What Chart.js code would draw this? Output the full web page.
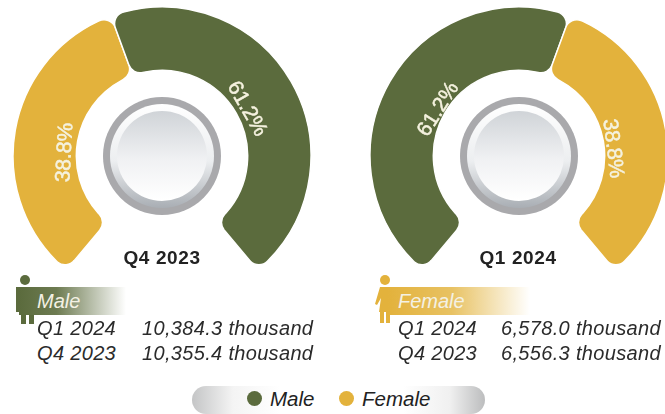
<!DOCTYPE html>
<html>
<head>
<meta charset="utf-8">
<script src="https://cdn.jsdelivr.net/npm/chart.js@4"></script>
<style>
  html, body { margin: 0; padding: 0; background: #fff; }
  body { width: 665px; height: 414px; position: relative; overflow: hidden; font-family: "Liberation Sans", Arial, sans-serif; color: #2b2b2b; }
  .box { position: absolute; }
  .box canvas { display: block; }
  .title { position: absolute; top: 248px; width: 120px; text-align: center; font-weight: bold; font-size: 19px; letter-spacing: 0.6px; line-height: 20px; color: #222; }
  .banner { position: absolute; top: 287px; height: 28px; line-height: 29px; font-style: italic; font-size: 20px; color: #f4f1e4; }
  .row { position: absolute; font-style: italic; font-size: 20px; letter-spacing: 0.33px; line-height: 24px; white-space: nowrap; }
  .pill { position: absolute; left: 192px; top: 386px; width: 293px; height: 28px; border-radius: 14px; background: linear-gradient(90deg, #c4c5c6 0%, #f4f4f4 14%, #fff 30%, #fff 72%, #f0f0f0 88%, #bcbdbe 100%); }
  .dot { position: absolute; top: 391px; width: 15px; height: 15px; border-radius: 50%; }
  .key { position: absolute; top: 387px; font-style: italic; font-size: 20.5px; line-height: 24px; color: #222; }
  svg { position: absolute; }
</style>
</head>
<body>
<div class="box" style="left:12px;top:0;width:300px;height:277px"><canvas id="chartQ4"></canvas></div>
<div class="box" style="left:369px;top:0;width:300px;height:277px"><canvas id="chartQ1"></canvas></div>
<div class="title" id="titleQ4" style="left:102px"></div>
<div class="title" id="titleQ1" style="left:458px"></div>

<svg style="left:14px;top:274px" width="22" height="52" viewBox="0 0 22 52">
  <circle cx="11" cy="6" r="5" fill="#5b6b3d"/>
  <path d="M2 13H20V50H15V38H12V50H7V38H6V38H2Z" fill="#5b6b3d"/>
</svg>
<svg style="left:373px;top:274px" width="22" height="52" viewBox="0 0 22 52">
  <circle cx="12" cy="6" r="5" fill="#e3b23c"/>
  <path d="M7 13H20V38H17V49H13V38H11V49H7V38H6L8 24L4 31L2 30Z" fill="#e3b23c"/>
</svg>
<div class="banner" id="bannerMale" style="left:19px;width:107px;padding-left:18px;box-sizing:border-box;background:linear-gradient(90deg,#5b6b3d 0%,#6d7b51 35%,#fff 100%)"></div>
<div class="banner" id="bannerFemale" style="left:388px;width:142px;padding-left:10px;box-sizing:border-box;background:linear-gradient(90deg,#e3b23c 0%,#e8c263 45%,#fff 100%)"></div>
<div id="rows"></div>

<div class="pill"></div>
<div class="dot" style="left:247px;background:#5b6b3d"></div>
<div class="key" id="keyMale" style="left:270px"></div>
<div class="dot" style="left:339px;background:#e3b23c"></div>
<div class="key" id="keyFemale" style="left:362px"></div>

<script>
const genders = ["Male", "Female"];
const quarters = ["Q1 2024", "Q4 2023"];
const maleThousands = ["10,384.3", "10,355.4"];
const femaleThousands = ["6,578.0", "6,556.3"];

const q4Labels = ["38.8%", "61.2%"];
const q1Labels = ["61.2%", "38.8%"];
const q4Sweep = [120, 160];
const q1Sweep = [160, 120];

const green = "#5b6b3d";
const yellow = "#e3b23c";

// angle round the ring, distance from centre, text rotation (degrees)
const q4Spots = [{ a: -88, r: 97, rot: -87 }, { a: 61, r: 97, rot: 60 }];
const q1Spots = [{ a: -60, r: 93, rot: -58 }, { a: 85.5, r: 94, rot: 83 }];

const centerParts = {
  id: "centerParts",
  afterDatasetsDraw(chart, args, opts) {
    const { ctx } = chart;
    const first = chart.getDatasetMeta(0).data[0];
    const cx = first.x;
    const cy = first.y;

    // knob in the middle
    ctx.save();
    ctx.beginPath();
    ctx.arc(cx, cy, 59, 0, Math.PI * 2);
    ctx.fillStyle = "#a9a9ac";
    ctx.fill();
    let grad = ctx.createLinearGradient(0, cy - 52, 0, cy + 52);
    grad.addColorStop(0, "#ffffff");
    grad.addColorStop(0.55, "#eceef0");
    grad.addColorStop(1, "#a9aeb4");
    ctx.beginPath();
    ctx.arc(cx, cy, 52, 0, Math.PI * 2);
    ctx.fillStyle = grad;
    ctx.fill();
    grad = ctx.createLinearGradient(0, cy - 46, 0, cy + 44);
    grad.addColorStop(0, "#cfd3d7");
    grad.addColorStop(0.55, "#f0f1f3");
    grad.addColorStop(1, "#ffffff");
    ctx.beginPath();
    ctx.arc(cx, cy, 45, 0, Math.PI * 2);
    ctx.fillStyle = grad;
    ctx.fill();

    // percent labels
    ctx.font = "21px 'Liberation Sans', Arial, sans-serif";
    ctx.fillStyle = "#f5f2df";
    ctx.strokeStyle = "#f5f2df";
    ctx.lineWidth = 0.5;
    ctx.textAlign = "center";
    ctx.textBaseline = "middle";
    opts.spots.forEach((spot, i) => {
      const ang = (spot.a * Math.PI) / 180;
      ctx.save();
      ctx.translate(cx + spot.r * Math.sin(ang), cy - spot.r * Math.cos(ang));
      ctx.rotate((spot.rot * Math.PI) / 180);
      ctx.fillText(opts.labels[i], 0, 0);
      ctx.strokeText(opts.labels[i], 0, 0);
      ctx.restore();
    });
    ctx.restore();
  },
};

function makeRing(id, sweep, colors, names, labels, spots) {
  return new Chart(document.getElementById(id), {
    type: "doughnut",
    data: {
      labels: names,
      datasets: [{
        data: sweep,
        backgroundColor: colors,
        borderColor: "#ffffff",
        borderWidth: 1.5,
        borderRadius: 12,
      }],
    },
    options: {
      responsive: true,
      maintainAspectRatio: false,
      animation: false,
      rotation: -140,
      circumference: 280,
      cutout: "57.5%",
      radius: 149,
      plugins: {
        legend: { display: false },
        tooltip: { enabled: false },
        centerParts: { labels, spots },
      },
    },
    plugins: [centerParts],
  });
}

makeRing("chartQ4", q4Sweep, [yellow, green], [genders[1], genders[0]], q4Labels, q4Spots);
makeRing("chartQ1", q1Sweep, [green, yellow], [genders[0], genders[1]], q1Labels, q1Spots);

document.getElementById("titleQ4").textContent = quarters[1];
document.getElementById("titleQ1").textContent = quarters[0];
document.getElementById("bannerMale").textContent = genders[0];
document.getElementById("bannerFemale").textContent = genders[1];
document.getElementById("keyMale").textContent = genders[0];
document.getElementById("keyFemale").textContent = genders[1];

const rows = document.getElementById("rows");
function addRow(text, left, top) {
  const el = document.createElement("div");
  el.className = "row";
  el.style.left = left + "px";
  el.style.top = top + "px";
  el.textContent = text;
  rows.appendChild(el);
}
quarters.forEach((q, i) => {
  const top = 316 + i * 25;
  addRow(q, 37, top);
  addRow(maleThousands[i] + " thousand", 142, top);
  addRow(q, 398, top);
  addRow(femaleThousands[i] + " thousand", 501, top);
});
</script>
</body>
</html>
